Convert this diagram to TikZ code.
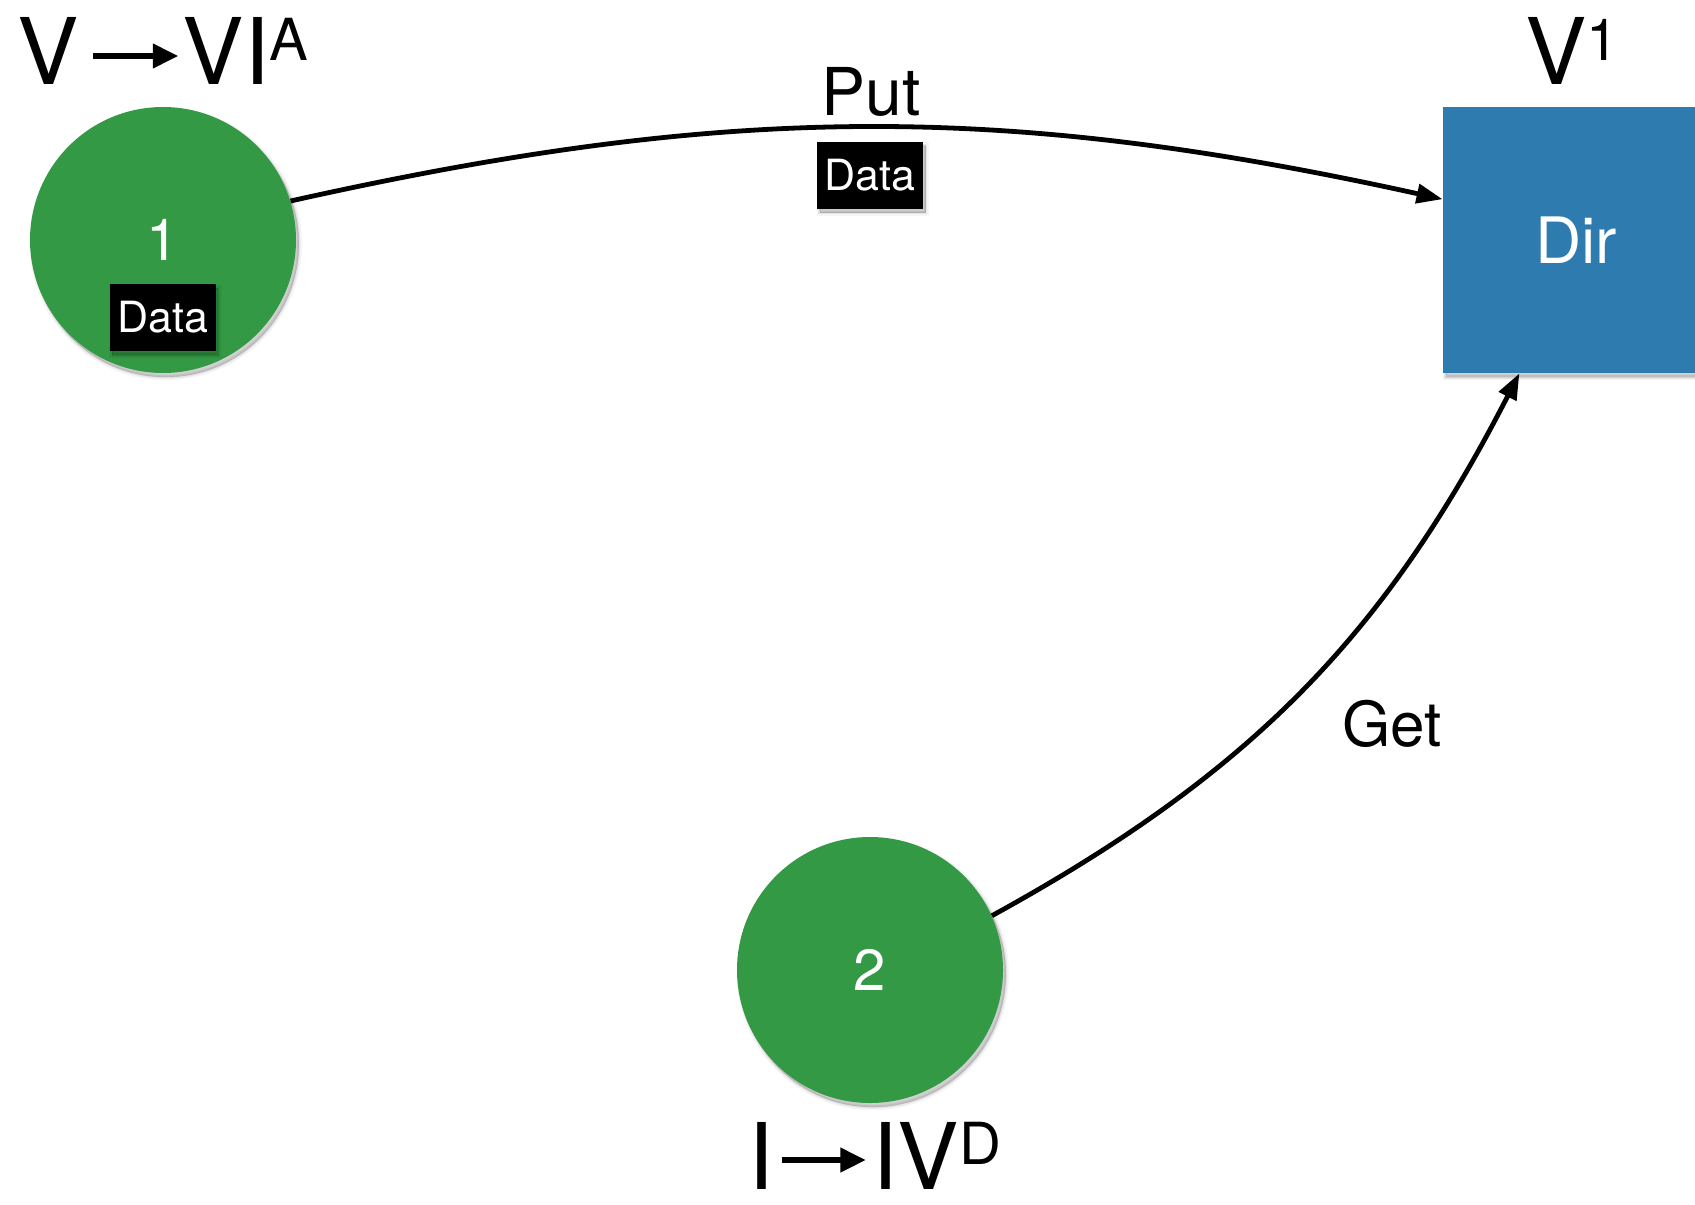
\documentclass[tikz,border=0pt]{standalone}
\usepackage{fontspec}
\setmainfont{TeX Gyre Heros}
\usetikzlibrary{arrows.meta}

\definecolor{dotgreen}{RGB}{51,153,68}
\definecolor{dirblue}{RGB}{46,123,176}

% long arrow set inline with text; #1 = total length
\newcommand{\txtarrow}[1]{\tikz[baseline=0pt]{%
  \fill (0pt,13pt) rectangle (#1-12pt,16pt);
  \fill (#1-12.5pt,8.2pt) -- (#1,14.5pt) -- (#1-12.5pt,20.8pt) -- cycle;}}
% raised superscript whose top lines up with the capitals
\newcommand{\supr}[1]{\raisebox{12.2pt}{\fontsize{29pt}{29pt}\selectfont #1}}

\begin{document}
\begin{tikzpicture}[x=0.5pt,y=-0.5pt,
  softshadow/.style={
    preaction={draw=black, fill=black, opacity=0.04, line width=3.2pt,
               transform canvas={xshift=1.4pt,yshift=-2pt}},
    preaction={draw=black, fill=black, opacity=0.06, line width=1.6pt,
               transform canvas={xshift=1.4pt,yshift=-2pt}},
    preaction={draw=black, fill=black, opacity=0.08, line width=0.4pt,
               transform canvas={xshift=1.4pt,yshift=-2pt}}},
  dot/.style={circle, fill=dotgreen, minimum size=133pt, inner sep=0pt,
    text=white, font=\fontsize{29pt}{29pt}\selectfont, softshadow},
  dirbox/.style={rectangle, fill=dirblue, minimum width=133pt,
    minimum height=133pt, inner sep=0pt, text=white,
    font=\fontsize{32pt}{32pt}\selectfont, softshadow},
  databox/.style={rectangle, fill=black, minimum width=53pt,
    minimum height=33.5pt, inner sep=0pt, text=white,
    font=\fontsize{21.5pt}{21.5pt}\selectfont, softshadow},
  caption/.style={anchor=base, inner sep=0pt,
    font=\fontsize{46pt}{46pt}\selectfont},
  edgelabel/.style={anchor=base, inner sep=0pt},
  conn/.style={line width=2.4pt, -{Triangle[length=13pt,width=9.5pt]}},
]
\useasboundingbox (0,0) rectangle (1695,1204);
\clip (0,0) rectangle (1695,1204);
\fill[white] (0,0) rectangle (1695,1204);

% nodes
\node[dot] (c1) at (163,240) {1};
\node[databox] (d1) at (162.5,317.5) {Data};
\node[dot] (c2) at (870,970) {2};
\node[dirbox] (dir) at (1576,240) {Dir};
\node[databox] (d2) at (870,175) {Data};

% captions
\node[caption] (cap1) at (163,85) {V\hspace{7pt}\txtarrow{42.5pt}\hspace{2.5pt}VI\supr{A}};
\node[caption] (capdir) at (1572,85) {V\supr{1}};
\node[caption] (cap2) at (875,1189) {I\hspace{4pt}\txtarrow{41.5pt}\hspace{3.5pt}IV\supr{D}};

% connectors
\draw[conn] (c1.17) to[bend left=12.5] (dir.163);
\draw[conn] (c2.24) to[bend right=17] (dir.247);

% connector labels
\node[edgelabel, font=\fontsize{33pt}{33pt}\selectfont] (putlbl) at (871,115) {Put};
\node[edgelabel, font=\fontsize{31pt}{31pt}\selectfont] (getlbl) at (1392,746) {Get};
\end{tikzpicture}
\end{document}
